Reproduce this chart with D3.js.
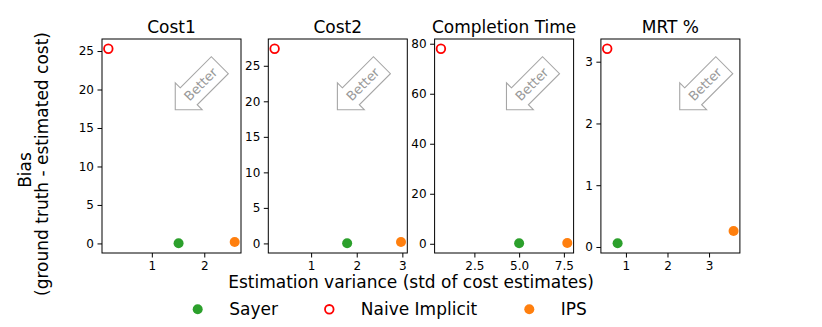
<!DOCTYPE html>
<html>
<head>
<meta charset="utf-8">
<script src="https://cdn.jsdelivr.net/npm/d3@7"></script>
<style>
  body { margin: 0; background: #fff; }
  text { font-family: "DejaVu Sans", sans-serif; fill: #000; }
  .tick text { font-size: 12px; }
  .tick line { stroke: #000; }
  .domain { display: none; }
</style>
</head>
<body>
<div id="chart"></div>
<script>
// data
let panelTitles = ["Cost1", "Cost2", "Completion Time", "MRT %"]
let methodNames = ["Sayer", "Naive Implicit", "IPS"]

let sayerStd = [1.51, 1.79, 5.0, 0.80]
let sayerBias = [0.02, 0.02, 0.2, 0.06]
let naiveStd = [0.17, 0.20, 0.63, 0.55]
let naiveBias = [25.3, 27.4, 78.0, 3.21]
let ipsStd = [2.58, 2.97, 7.69, 3.59]
let ipsBias = [0.18, 0.2, 0.3, 0.26]

let xTicks = [[1, 2], [1, 2, 3], [2.5, 5.0, 7.5], [1, 2, 3]]
let yTicks = [[0, 5, 10, 15, 20, 25], [0, 5, 10, 15, 20, 25], [0, 20, 40, 60, 80], [0, 1, 2, 3]]
let xTickFormat = ["d", "d", ".1f", "d"]

let width = 822
let height = 327

let plotTop = 39
let plotBottom = 253
let plotW = 139
let firstLeft = 102
let panelStep = 166.3

// where the "Better" arrow sits, as a fraction of each panel's width
let arrowFx = [0.70, 0.67, 0.69, 0.74]
let arrowFy = 0.218

let svg = d3.select("#chart")
    .append("svg")
    .attr("width", width)
    .attr("height", height)

function padded(vals){
    let lo = d3.min(vals)
    let hi = d3.max(vals)
    let p = (hi - lo) * 0.05
    return [lo - p, hi + p]
}

panelTitles.forEach(function(title, i){
    let left = firstLeft + i * panelStep
    let pts = [
        {m: 0, x: sayerStd[i], y: sayerBias[i]},
        {m: 1, x: naiveStd[i], y: naiveBias[i]},
        {m: 2, x: ipsStd[i], y: ipsBias[i]}
    ]

    let xScale = d3.scaleLinear()
        .domain(padded(pts.map(d => d.x)))
        .range([left, left + plotW])
    let yScale = d3.scaleLinear()
        .domain(padded(pts.map(d => d.y)))
        .range([plotBottom, plotTop])

    let g = svg.append("g").attr("class", "panel")

    g.append("g")
        .attr("transform", `translate(0, ${plotBottom})`)
        .call(d3.axisBottom(xScale).tickValues(xTicks[i]).tickFormat(d3.format(xTickFormat[i])).tickSize(4.5).tickPadding(3.5))

    g.append("g")
        .attr("transform", `translate(${left}, 0)`)
        .call(d3.axisLeft(yScale).tickValues(yTicks[i]).tickFormat(d3.format("d")).tickSize(4.5).tickPadding(3.5))

    g.append("rect")
        .attr("x", left)
        .attr("y", plotTop)
        .attr("width", plotW)
        .attr("height", plotBottom - plotTop)
        .attr("fill", "none")
        .attr("stroke", "#000")
        .attr("stroke-width", 1)

    g.append("text")
        .attr("x", left + plotW / 2)
        .attr("y", plotTop - 6)
        .attr("text-anchor", "middle")
        .attr("font-size", 17)
        .text(title)

    // the "Better" arrow: a left arrow box rotated to point to the lower left
    let ax = left + plotW * arrowFx[i]
    let ay = plotTop + (plotBottom - plotTop) * arrowFy
    let arrow = g.append("g").attr("transform", `translate(${ax}, ${ay}) rotate(-45)`)
    let hb = 12, hh = 19, headBase = -15, tip = -34, tail = 29
    arrow.append("path")
        .attr("d", `M${headBase},${-hb} L${tail},${-hb} L${tail},${hb} L${headBase},${hb} L${headBase},${hh} L${tip},0 L${headBase},${-hh} Z`)
        .attr("fill", "#fff")
        .attr("stroke", "#a6a6a6")
        .attr("stroke-width", 1.1)
    arrow.append("text")
        .attr("x", 2)
        .attr("y", 4.5)
        .attr("text-anchor", "middle")
        .attr("font-size", 13)
        .style("fill", "#999")
        .text("Better")

    // points
    g.selectAll("circle.dot")
        .data(pts)
        .enter()
        .append("circle")
        .attr("class", "dot")
        .attr("cx", d => xScale(d.x))
        .attr("cy", d => yScale(d.y))
        .attr("r", d => d.m === 1 ? 4.3 : 5)
        .attr("fill", d => d.m === 0 ? "#2ca02c" : d.m === 2 ? "#ff7f0e" : "none")
        .attr("stroke", d => d.m === 1 ? "#ff0000" : "none")
        .attr("stroke-width", 1.8)
})

// axis labels
svg.append("text")
    .attr("x", 411)
    .attr("y", 288)
    .attr("text-anchor", "middle")
    .attr("font-size", 17)
    .text("Estimation variance (std of cost estimates)")

svg.append("text")
    .attr("transform", "translate(30.5, 170) rotate(-90)")
    .attr("text-anchor", "middle")
    .attr("font-size", 17)
    .text("Bias")

svg.append("text")
    .attr("transform", "translate(48, 164) rotate(-90)")
    .attr("text-anchor", "middle")
    .attr("font-size", 17)
    .text("(ground truth - estimated cost)")

// legend
let legendX = [197.7, 329.3, 529.3]
let legendY = 309.3
let legend = svg.append("g").attr("class", "legend")
methodNames.forEach(function(name, m){
    legend.append("circle")
        .attr("cx", legendX[m])
        .attr("cy", legendY)
        .attr("r", m === 1 ? 4.3 : 5)
        .attr("fill", m === 0 ? "#2ca02c" : m === 2 ? "#ff7f0e" : "none")
        .attr("stroke", m === 1 ? "#ff0000" : "none")
        .attr("stroke-width", 1.8)
    legend.append("text")
        .attr("x", legendX[m] + 31.5)
        .attr("y", legendY + 6)
        .attr("font-size", 17)
        .text(name)
})
</script>
</body>
</html>
